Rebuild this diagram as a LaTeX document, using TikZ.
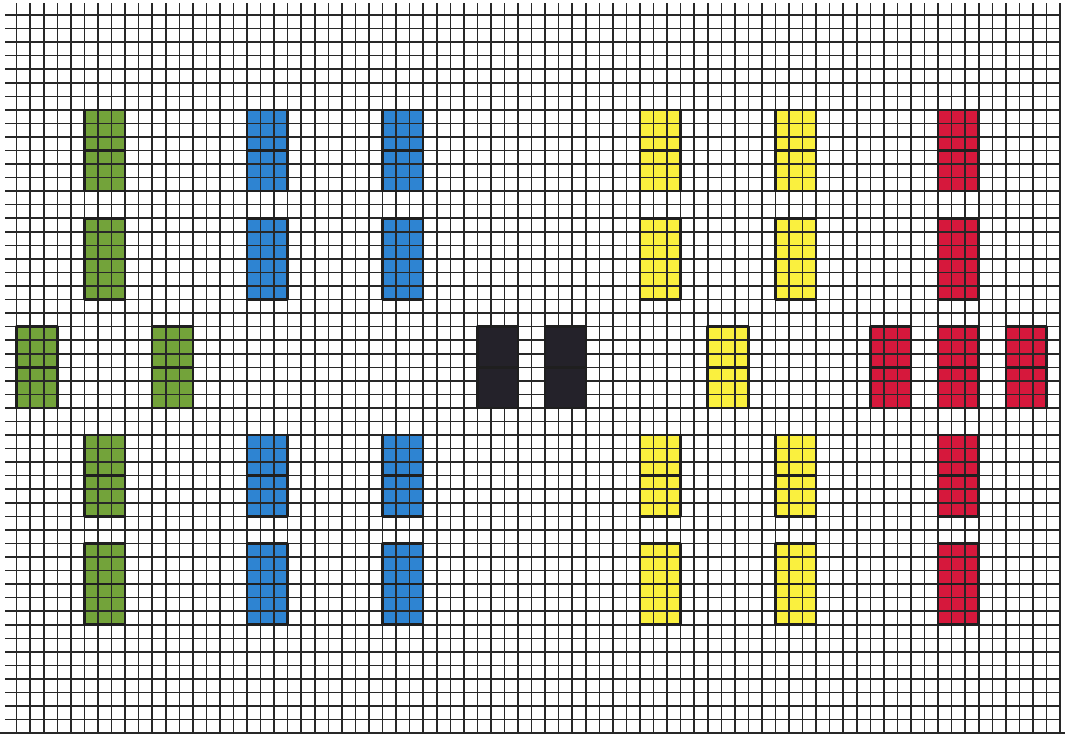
\documentclass[tikz,border=0pt]{standalone}

\definecolor{penGreen}{RGB}{115,163,58}
\definecolor{penBlue}{RGB}{46,132,210}
\definecolor{penYellow}{RGB}{250,240,62}
\definecolor{penRed}{RGB}{214,24,60}
\definecolor{penBlack}{RGB}{36,34,42}
\definecolor{inkLine}{RGB}{40,40,40}

\tikzset{
  gridline/.style={line width=1.1pt, draw=inkLine},
  blockline/.style={line width=1.8pt, draw=black!88, line join=round}
}

% block positions: column / top row (3 wide, 6 high)
\def\greenblocks{5/7,5/15,0/23,10/23,5/31,5/39}
\def\blueblocks{17/7,17/15,27/7,27/15,17/31,17/39,27/31,27/39}
\def\blackblocks{34/23,39/23}
\def\yellowblocks{46/7,46/15,56/7,56/15,51/23,46/31,46/39,56/31,56/39}
\def\redblocks{68/7,68/15,63/23,68/23,73/23,68/31,68/39}

% outline with middle line for every block of a list
\newcommand{\outlineblocks}[1]{%
  \foreach \c/\r in #1 {
    \draw[blockline] (\c,\r) rectangle ++(3,6);
    \draw[blockline] (\c,\r+3) -- ++(3,0);
  }%
}

\begin{document}
\begin{tikzpicture}[x=0.33875cm,y=-0.33875cm]

    \useasboundingbox[fill=white] (-1.232,-1.107) rectangle (77.367,53.21);

    % Coloured blocks (under the grid)
    \foreach \c/\r in \greenblocks
    \fill[penGreen] (\c,\r) rectangle ++(3,6);
    \foreach \c/\r in \blueblocks
    \fill[penBlue] (\c,\r) rectangle ++(3,6);
    \foreach \c/\r in \yellowblocks
    \fill[penYellow] (\c,\r) rectangle ++(3,6);
    \foreach \c/\r in \redblocks
    \fill[penRed] (\c,\r) rectangle ++(3,6);

    % Squared paper
    \foreach \x in {0,...,77}
    \draw[gridline] (\x,-0.88) -- (\x,53);
    \foreach \y in {0,...,52}
    \draw[gridline] (-0.86,\y) -- (77.05,\y);
    \draw[line width=1.5pt, draw=inkLine] (-1.232,53) -- (77.367,53);

    % Black blocks cover the grid
    \foreach \c/\r in \blackblocks
    \fill[penBlack] (\c,\r) rectangle ++(3,6);

    % Outlines and middle lines
    \outlineblocks{\greenblocks}
    \outlineblocks{\blueblocks}
    \outlineblocks{\blackblocks}
    \outlineblocks{\yellowblocks}
    \outlineblocks{\redblocks}

  \end{tikzpicture}
\end{document}
